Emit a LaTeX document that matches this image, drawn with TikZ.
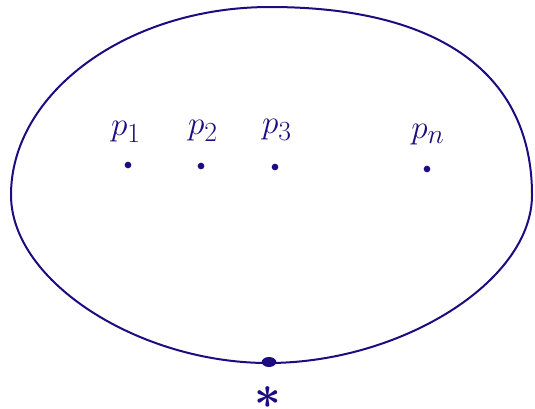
\documentclass[tikz,border=0pt]{standalone}
\usetikzlibrary{calc,shapes.geometric}
\definecolor{ink}{RGB}{28,12,128}
\begin{document}
\begin{tikzpicture}[x=0.75pt,y=-0.75pt,
  pt/.style={circle,fill=ink,inner sep=0pt,minimum size=5pt},
  lab/.style={text=ink,font=\Huge},
  ink line/.style={draw=ink,line width=1.5pt}]
\useasboundingbox (0,0) rectangle (535,408);
\draw[ink line] (270,7) .. controls (441,7) and (532,75) .. (532,195)
  .. controls (532,282) and (400,363) .. (268,363)
  .. controls (140,363) and (11,282) .. (11,195)
  .. controls (11,93) and (127,7) .. (270,7) -- cycle;
\node[pt] (p1) at (128,165) {};
\node[pt] (p2) at (201,166) {};
\node[pt] (p3) at (275,167) {};
\node[pt] (pn) at (427,169) {};
\node[lab] (l1) at (126,132) {$p_1$};
\node[lab] (l2) at (203,131) {$p_2$};
\node[lab] (l3) at (277,130) {$p_3$};
\node[lab] (ln) at (428,135) {$p_n$};
\node[ellipse,fill=ink,inner sep=0pt,minimum width=11pt,minimum height=7.5pt] (base) at (269,362) {};
\node[text=ink,font=\Huge\boldmath,scale=1.4] (star) at (268,398) {$\ast$};
\end{tikzpicture}
\end{document}
